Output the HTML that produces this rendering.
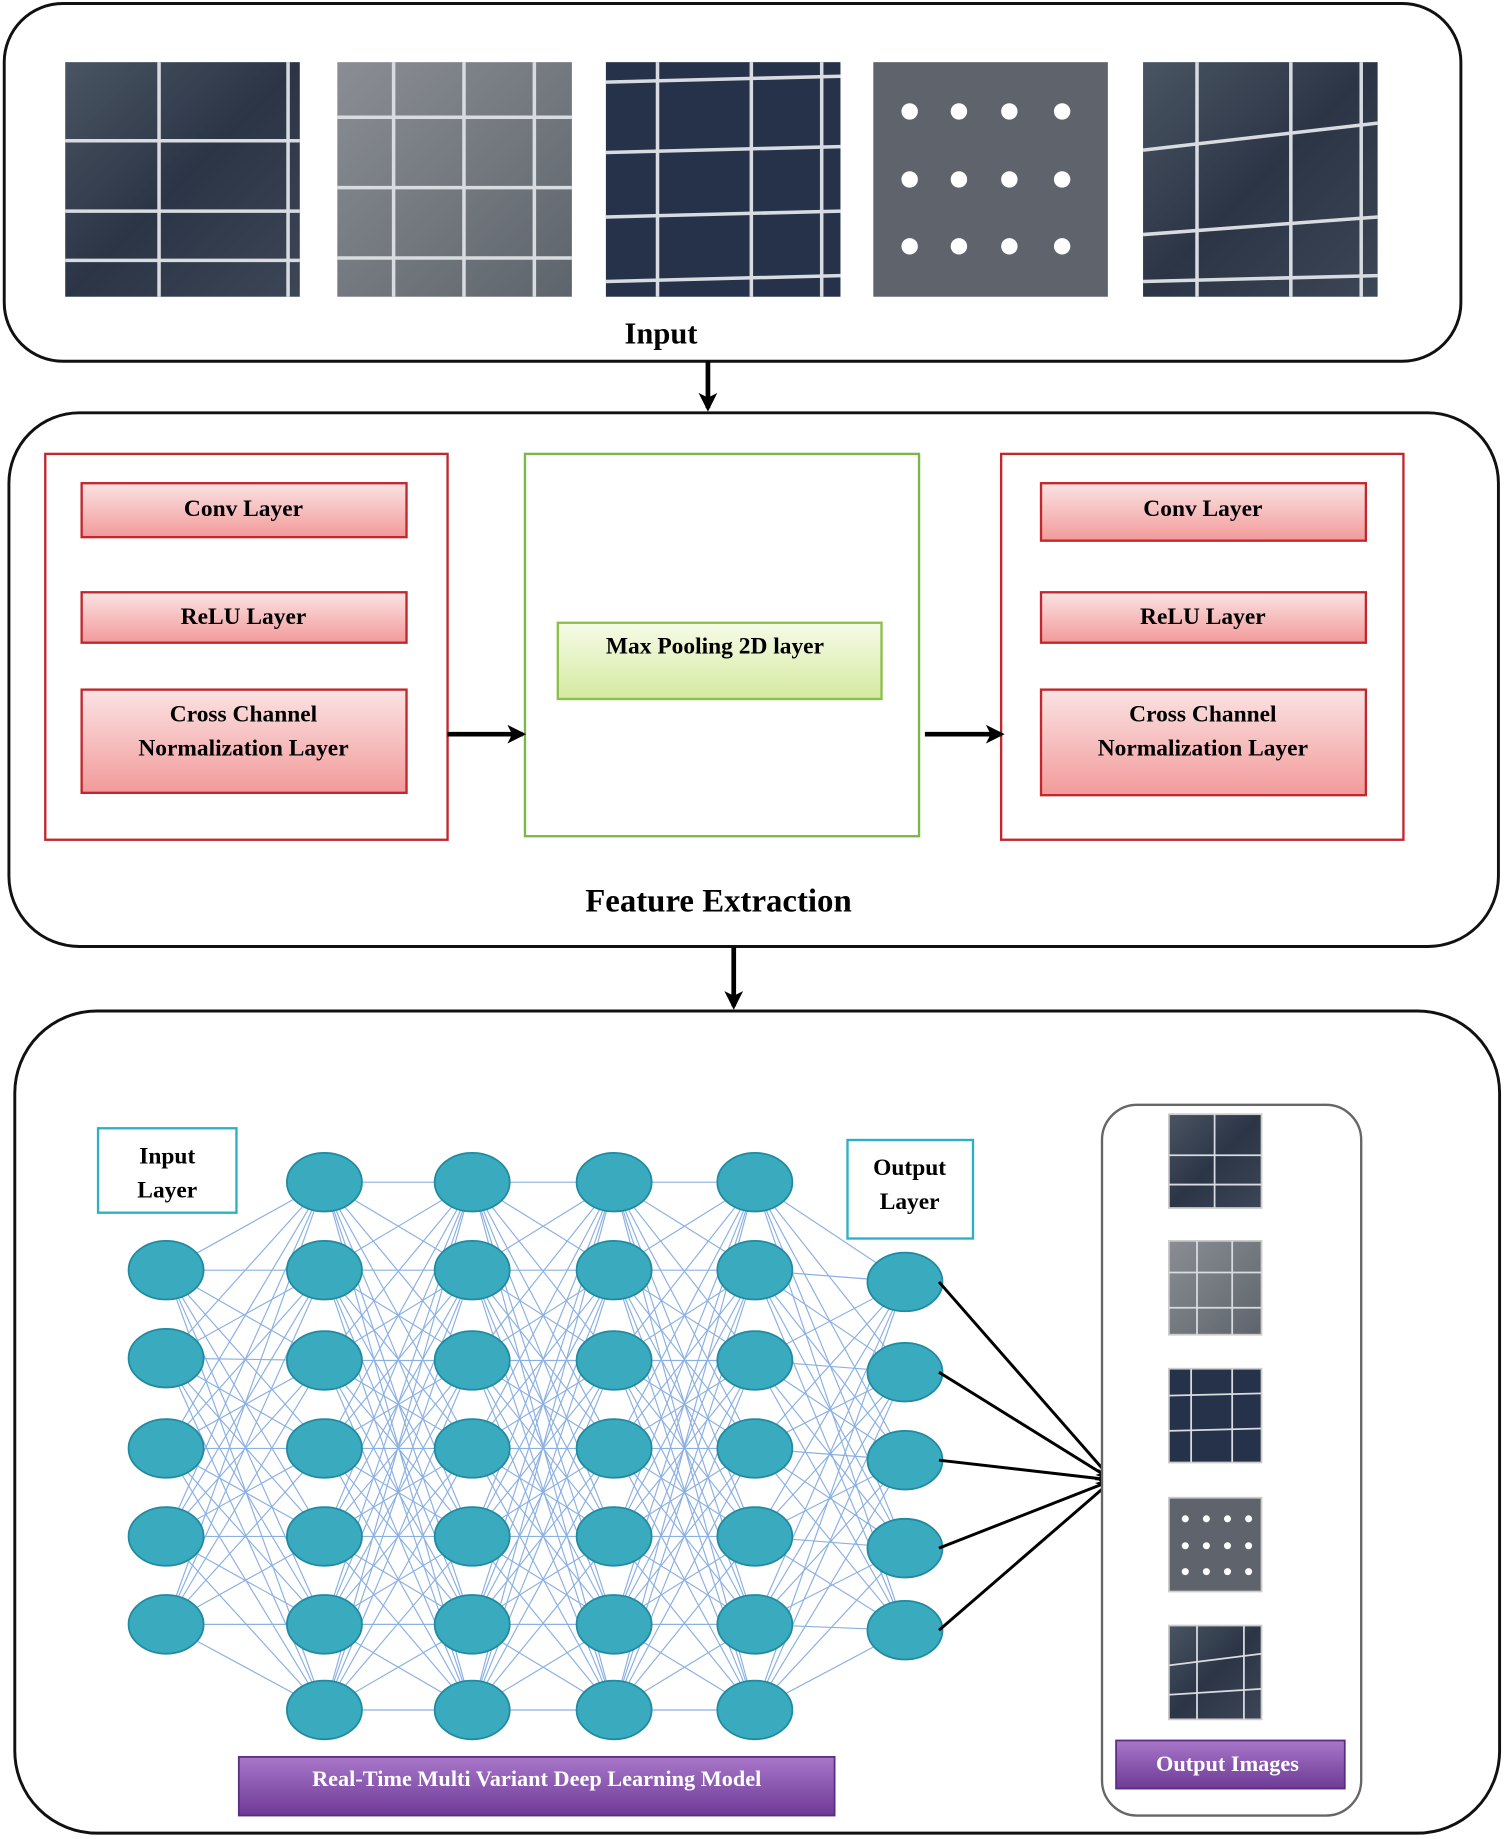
<!DOCTYPE html>
<html><head><meta charset="utf-8"><style>
html,body{margin:0;padding:0;background:#fff}
svg{display:block}
text{font-family:"Liberation Serif",serif;font-weight:bold}
</style></head><body>
<svg width="1505" height="1839" viewBox="0 0 1282 1568" xmlns="http://www.w3.org/2000/svg">
<defs>
<linearGradient id="pnl" x1="0" y1="0" x2="1" y2="1"><stop offset="0" stop-color="#4a5563"/><stop offset="0.5" stop-color="#2b3546"/><stop offset="1" stop-color="#3d4656"/></linearGradient>
<linearGradient id="pnl2" x1="0" y1="0" x2="1" y2="1"><stop offset="0" stop-color="#8a8e94"/><stop offset="1" stop-color="#5e646c"/></linearGradient>
<linearGradient id="pink" x1="0" y1="0" x2="0" y2="1"><stop offset="0" stop-color="#fbe3e3"/><stop offset="1" stop-color="#f29a9a"/></linearGradient>
<linearGradient id="lg" x1="0" y1="0" x2="0" y2="1"><stop offset="0" stop-color="#f6fbe8"/><stop offset="1" stop-color="#d5eaa0"/></linearGradient>
<linearGradient id="pur" x1="0" y1="0" x2="0" y2="1"><stop offset="0" stop-color="#a877c9"/><stop offset="1" stop-color="#6e3a96"/></linearGradient>
<marker id="ah" markerWidth="16" markerHeight="16" refX="13" refY="8" orient="auto" markerUnits="userSpaceOnUse"><path d="M0,0 L16,8 L0,16 L4,8z" fill="#000"/></marker>
</defs>

<rect x="3" y="3" width="1242" height="305" rx="50" fill="#fff" stroke="#111" stroke-width="2.5"/>
<g stroke="#d8dce0" stroke-width="3">
<rect x="55" y="53" width="200" height="200" fill="url(#pnl)" stroke="none"/>
<line x1="55" y1="120" x2="255" y2="120"/><line x1="55" y1="180" x2="255" y2="180"/><line x1="55" y1="222" x2="255" y2="222"/><line x1="135" y1="53" x2="135" y2="253"/><line x1="245" y1="53" x2="245" y2="253"/>
<rect x="287" y="53" width="200" height="200" fill="url(#pnl2)" stroke="none"/>
<line x1="287" y1="100" x2="487" y2="100"/><line x1="287" y1="160" x2="487" y2="160"/><line x1="287" y1="220" x2="487" y2="220"/><line x1="335" y1="53" x2="335" y2="253"/><line x1="395" y1="53" x2="395" y2="253"/><line x1="455" y1="53" x2="455" y2="253"/>
<rect x="516" y="53" width="200" height="200" fill="#25324a" stroke="none"/>
<line x1="516" y1="70" x2="716" y2="65"/><line x1="516" y1="130" x2="716" y2="125"/><line x1="516" y1="185" x2="716" y2="180"/><line x1="516" y1="240" x2="716" y2="235"/><line x1="560" y1="53" x2="560" y2="253"/><line x1="640" y1="53" x2="640" y2="253"/><line x1="700" y1="53" x2="700" y2="253"/>
<rect x="744" y="53" width="200" height="200" fill="#5f636b" stroke="none"/>
<rect x="974" y="53" width="200" height="200" fill="url(#pnl)" stroke="none"/>
<line x1="974" y1="128" x2="1174" y2="105"/><line x1="974" y1="200" x2="1174" y2="185"/><line x1="974" y1="240" x2="1174" y2="235"/><line x1="1020" y1="53" x2="1020" y2="253"/><line x1="1100" y1="53" x2="1100" y2="253"/><line x1="1160" y1="53" x2="1160" y2="253"/>
</g>
<g fill="#fff">
<circle cx="775" cy="95" r="7"/><circle cx="817" cy="95" r="7"/><circle cx="860" cy="95" r="7"/><circle cx="905" cy="95" r="7"/>
<circle cx="775" cy="153" r="7"/><circle cx="817" cy="153" r="7"/><circle cx="860" cy="153" r="7"/><circle cx="905" cy="153" r="7"/>
<circle cx="775" cy="210" r="7"/><circle cx="817" cy="210" r="7"/><circle cx="860" cy="210" r="7"/><circle cx="905" cy="210" r="7"/>
</g>
<text x="563" y="293" font-size="26" text-anchor="middle">Input</text>
<line x1="603" y1="308" x2="603" y2="348" stroke="#000" stroke-width="4" marker-end="url(#ah)"/>

<rect x="7" y="352" width="1270" height="455" rx="60" fill="#fff" stroke="#111" stroke-width="2.5"/>
<rect x="38" y="387" width="343" height="329" fill="none" stroke="#c0282d" stroke-width="2"/>
<rect x="853" y="387" width="343" height="329" fill="none" stroke="#c0282d" stroke-width="2"/>
<rect x="447" y="387" width="336" height="326" fill="none" stroke="#7ab648" stroke-width="2"/>
<g stroke="#c0282d" stroke-width="2" fill="url(#pink)">
<rect x="69" y="412" width="277" height="46"/><rect x="69" y="505" width="277" height="43"/><rect x="69" y="588" width="277" height="88"/>
<rect x="887" y="412" width="277" height="49"/><rect x="887" y="505" width="277" height="43"/><rect x="887" y="588" width="277" height="90"/>
</g>
<rect x="475" y="531" width="276" height="65" fill="url(#lg)" stroke="#8cc04a" stroke-width="2"/>
<g font-size="20" text-anchor="middle">
<text x="207" y="440">Conv Layer</text><text x="207" y="532">ReLU Layer</text>
<text x="207" y="615">Cross Channel</text><text x="207" y="644">Normalization Layer</text>
<text x="1025" y="440">Conv Layer</text><text x="1025" y="532">ReLU Layer</text>
<text x="1025" y="615">Cross Channel</text><text x="1025" y="644">Normalization Layer</text>
<text x="609" y="557">Max Pooling 2D layer</text>
</g>
<line x1="381" y1="626" x2="445" y2="626" stroke="#000" stroke-width="4" marker-end="url(#ah)"/>
<line x1="788" y1="626" x2="853" y2="626" stroke="#000" stroke-width="4" marker-end="url(#ah)"/>
<text x="612" y="777" font-size="28" text-anchor="middle">Feature Extraction</text>
<line x1="625" y1="808" x2="625" y2="858" stroke="#000" stroke-width="4" marker-end="url(#ah)"/>

<rect x="12" y="862" width="1266" height="701" rx="70" fill="#fff" stroke="#111" stroke-width="2.5"/>
<g stroke="#5b8fd6" stroke-width="1" opacity="0.7" id="conns"></g>
<rect x="83" y="962" width="118" height="72" fill="#fff" stroke="#2ab0c8" stroke-width="2"/>
<rect x="722" y="972" width="107" height="84" fill="#fff" stroke="#2ab0c8" stroke-width="2"/>
<g font-size="20" text-anchor="middle">
<text x="142" y="992">Input</text><text x="142" y="1021">Layer</text>
<text x="775" y="1002">Output</text><text x="775" y="1031">Layer</text>
</g>
<g id="nodes" fill="#3aaabf" stroke="#1f8aa0" stroke-width="1.5"></g>
<g id="outarr" stroke="#000" stroke-width="2.5"></g>
<rect x="939" y="942" width="221" height="606" rx="30" fill="#fff" stroke="#666" stroke-width="2"/>
<g stroke="#ccc" stroke-width="1.5">
<rect x="996" y="950" width="79" height="80" fill="url(#pnl)"/>
<rect x="996" y="1058" width="79" height="80" fill="url(#pnl2)"/>
<rect x="996" y="1167" width="79" height="80" fill="#25324a"/>
<rect x="996" y="1277" width="79" height="80" fill="#5f636b"/>
<rect x="996" y="1386" width="79" height="80" fill="url(#pnl)"/>
</g>
<g stroke="#d8dce0" stroke-width="1.5">
<line x1="996" y1="985" x2="1075" y2="985"/><line x1="996" y1="1010" x2="1075" y2="1010"/><line x1="1035" y1="950" x2="1035" y2="1030"/>
<line x1="996" y1="1085" x2="1075" y2="1085"/><line x1="996" y1="1115" x2="1075" y2="1115"/><line x1="1020" y1="1058" x2="1020" y2="1138"/><line x1="1050" y1="1058" x2="1050" y2="1138"/>
<line x1="996" y1="1190" x2="1075" y2="1188"/><line x1="996" y1="1220" x2="1075" y2="1218"/><line x1="1015" y1="1167" x2="1015" y2="1247"/><line x1="1050" y1="1167" x2="1050" y2="1247"/>
<line x1="996" y1="1420" x2="1075" y2="1410"/><line x1="996" y1="1445" x2="1075" y2="1440"/><line x1="1020" y1="1386" x2="1020" y2="1466"/><line x1="1060" y1="1386" x2="1060" y2="1466"/>
</g>
<g fill="#fff"><circle cx="1010" cy="1295" r="3"/><circle cx="1028" cy="1295" r="3"/><circle cx="1046" cy="1295" r="3"/><circle cx="1064" cy="1295" r="3"/><circle cx="1010" cy="1318" r="3"/><circle cx="1028" cy="1318" r="3"/><circle cx="1046" cy="1318" r="3"/><circle cx="1064" cy="1318" r="3"/><circle cx="1010" cy="1340" r="3"/><circle cx="1028" cy="1340" r="3"/><circle cx="1046" cy="1340" r="3"/><circle cx="1064" cy="1340" r="3"/></g>
<rect x="203" y="1498" width="508" height="50" fill="url(#pur)" stroke="#5a2d80" stroke-width="1.5"/>
<rect x="951" y="1484" width="195" height="41" fill="url(#pur)" stroke="#5a2d80" stroke-width="1.5"/>
<text x="457" y="1523" font-size="19" text-anchor="middle" fill="#fff">Real-Time Multi Variant Deep Learning Model</text>
<text x="1046" y="1510" font-size="19" text-anchor="middle" fill="#fff">Output Images</text>
</svg>
<script>
var ns="http://www.w3.org/2000/svg";
var mid=[1008,1083,1160,1235,1310,1385,1458];
var cols=[[141,[1083,1158,1235,1310,1385]],[276,mid],[402,mid],[523,mid],[643,mid],[771,[1093,1170,1245,1320,1390]]];
var cg=document.getElementById('conns'),ng=document.getElementById('nodes'),og=document.getElementById('outarr');
for(var c=0;c<cols.length-1;c++){var a=cols[c],b=cols[c+1];
a[1].forEach(function(y1){b[1].forEach(function(y2){var l=document.createElementNS(ns,'line');l.setAttribute('x1',a[0]);l.setAttribute('y1',y1);l.setAttribute('x2',b[0]);l.setAttribute('y2',y2);cg.appendChild(l);});});}
cols.forEach(function(col){col[1].forEach(function(y){var e=document.createElementNS(ns,'ellipse');e.setAttribute('cx',col[0]);e.setAttribute('cy',y);e.setAttribute('rx',32);e.setAttribute('ry',25);ng.appendChild(e);});});
cols[5][1].forEach(function(y){var l=document.createElementNS(ns,'line');l.setAttribute('x1',800);l.setAttribute('y1',y);l.setAttribute('x2',948);l.setAttribute('y2',1262);l.setAttribute('marker-end','url(#ah)');og.appendChild(l);});
</script>
</body></html>
